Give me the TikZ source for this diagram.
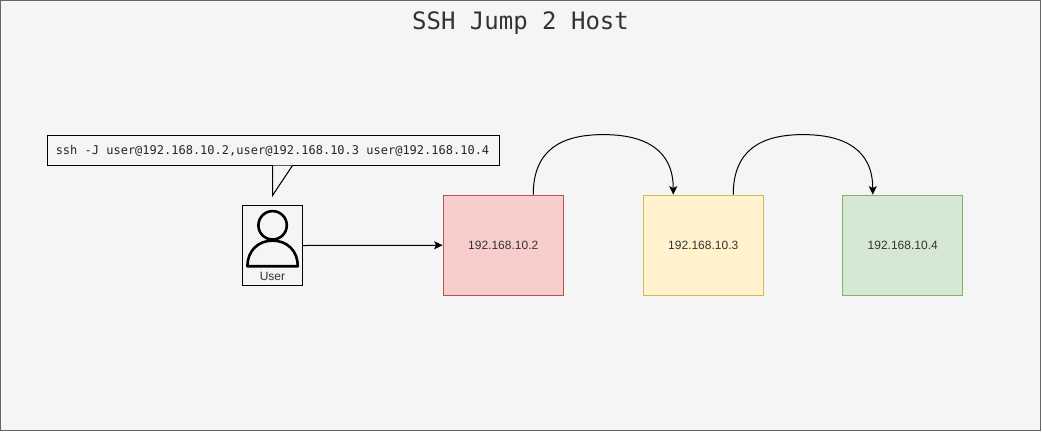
\documentclass[tikz,border=0pt]{standalone}
\usepackage{fontspec}
\setmainfont{Liberation Sans}
\newfontfamily\monof{DejaVu Sans Mono}
\usetikzlibrary{arrows.meta,calc}
\definecolor{bg}{HTML}{F5F5F5}
\definecolor{bgline}{HTML}{666666}
\definecolor{redfill}{HTML}{F8CECC}
\definecolor{redline}{HTML}{B85450}
\definecolor{yelfill}{HTML}{FFF2CC}
\definecolor{yelline}{HTML}{D6B656}
\definecolor{grnfill}{HTML}{D5E8D4}
\definecolor{grnline}{HTML}{82B366}
\definecolor{txt}{HTML}{333333}
\tikzset{
  hostbox/.style={draw=#1,line width=1.3pt,minimum width=120pt,minimum height=100pt,inner sep=0pt,text=txt,font=\fontsize{12}{14}\selectfont},
  conn/.style={draw=black,line width=1pt,-{Stealth[length=8.5pt,width=8pt,inset=2pt]}},
  iconline/.style={draw=black,line width=2.6pt}
}
\begin{document}
\begin{tikzpicture}[x=1pt,y=-1pt]
\useasboundingbox (0,0) rectangle (1042,432);
\draw[fill=bg,draw=bgline,line width=1pt] (0.5,0.5) rectangle (1040.5,430.5);
\node[text=txt,font=\monof\fontsize{24}{28}\selectfont,inner sep=0pt] (title) at (520.5,23) {SSH Jump 2 Host};
% hosts
\node[hostbox=redline,fill=redfill] (h2) at (503.25,245.25) {192.168.10.2};
\node[hostbox=yelline,fill=yelfill] (h3) at (703.25,245.25) {192.168.10.3};
\node[hostbox=grnline,fill=grnfill] (h4) at (902.75,245.25) {192.168.10.4};
% user
\node[draw=black,line width=1pt,minimum width=60pt,minimum height=80pt,inner sep=0pt] (user) at (272.5,245.5) {};
\node[text=txt,font=\fontsize{12}{14}\selectfont,inner sep=0pt] (ulabel) at (272.5,276) {User};
\draw[iconline] (272.6,225.3) circle (14.2pt);
\draw[iconline,line join=round] (247.4,266.2) .. controls (247.4,251) and (258,240.6) .. (272.6,240.6)
   .. controls (287.2,240.6) and (297.8,251) .. (297.8,266.2) -- cycle;
% callout
\node[draw=black,line width=1pt,minimum width=452pt,minimum height=30pt,inner sep=0pt,font=\monof\fontsize{12}{14}\selectfont,text=black!85] (say) at (273.5,150.5) {ssh -J user@192.168.10.2,user@192.168.10.3 user@192.168.10.4\kern2pt};
\coordinate (tailA) at (272.5,165.5);
\coordinate (tailB) at (272.5,195.5);
\coordinate (tailC) at (292.5,165.5);
\draw[line width=1pt,fill=bg,line join=miter] (tailA) -- (tailB) -- (tailC);
% connectors
\draw[conn] (user.east) -- (h2.west);
\coordinate (o2) at ($(h2.north)+(30,0)$);
\coordinate (i3) at ($(h3.north)+(-30,0)$);
\coordinate (o3) at ($(h3.north)+(30,0)$);
\coordinate (i4) at ($(h4.north)+(-30,0)$);
\draw[conn] (o2) .. controls ($(o2)+(0,-44)$) and ($(o2)+(27,-60)$) .. ($(o2)+(70,-60)$)
   .. controls ($(i3)+(-27,-60)$) and ($(i3)+(0,-44)$) .. (i3);
\draw[conn] (o3) .. controls ($(o3)+(0,-44)$) and ($(o3)+(27,-60)$) .. ($(o3)+(69.75,-60)$)
   .. controls ($(i4)+(-27,-60)$) and ($(i4)+(0,-44)$) .. (i4);
\end{tikzpicture}
\end{document}
